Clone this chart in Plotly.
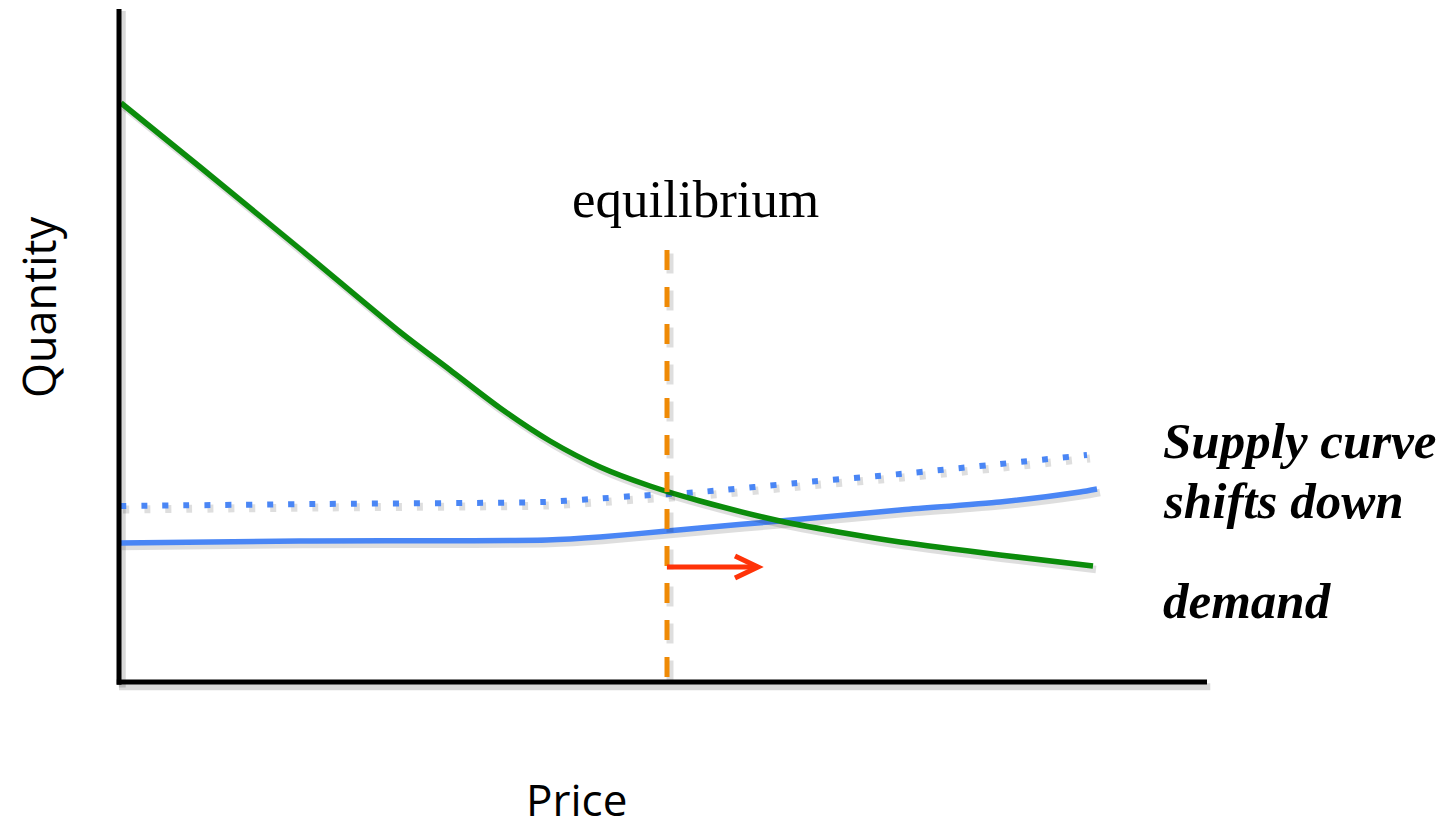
import plotly.graph_objects as go

# ---------------- data (price on x, quantity on y) ----------------
demand_price = [0.2, 8.1, 18.1, 28.1, 33.1, 38.1, 43.1, 48.1, 53.1, 58.1, 66.1, 73.1, 78.1, 88.1, 97.4]
demand_qty   = [57.9, 51.5, 43.3, 35.0, 31.2, 27.4, 24.1, 21.5, 19.6, 18.1, 16.1, 14.8, 14.0, 12.7, 11.6]

supply_new_price = [0.0, 18.1, 42.8, 48.1, 54.8, 58.1, 66.1, 78.1, 88.1, 96.1, 97.8]
supply_new_qty   = [13.9, 14.1, 14.2, 14.5, 15.1, 15.4, 16.1, 17.2, 18.0, 19.0, 19.3]

supply_old_price = [0.1, 19.8, 42.4, 47.4, 51.6, 58.1, 68.8, 78.1, 88.1, 96.8]
supply_old_qty   = [17.6, 17.8, 18.0, 18.3, 18.6, 19.0, 20.0, 20.8, 21.8, 22.7]

equilibrium_price = 54.8
equilibrium_line_top = 43.2
shift_start = 54.8
shift_end = 63.9
shift_level = 11.5

x_range = [0, 108.8]
y_range = [0, 67.3]

GREEN = "#0B8C0B"
BLUE = "#4A86F5"
ORANGE = "#EF8A05"
RED = "#FF3308"
SHADOW = "rgba(0,0,0,0.13)"
dx, dy = 0.3, -0.35

fig = go.Figure()

def add_line(xs, ys, color, width, dash="solid", shape="linear", smoothing=1.0, shadow=True):
    if shadow:
        fig.add_trace(go.Scatter(x=[v + dx for v in xs], y=[v + dy for v in ys], mode="lines",
                                 line=dict(color=SHADOW, width=width + 2, dash=dash, shape=shape,
                                           smoothing=smoothing),
                                 hoverinfo="skip", showlegend=False, cliponaxis=False))
    fig.add_trace(go.Scatter(x=xs, y=ys, mode="lines",
                             line=dict(color=color, width=width, dash=dash, shape=shape,
                                       smoothing=smoothing),
                             hoverinfo="skip", showlegend=False, cliponaxis=False))

add_line(supply_old_price, supply_old_qty, BLUE, 6, dash="6px,15px", shape="spline", smoothing=0.6)
add_line(supply_new_price, supply_new_qty, BLUE, 5.5, shape="spline", smoothing=0.6)
add_line(demand_price, demand_qty, GREEN, 5.5, shape="spline", smoothing=0.8)
add_line([equilibrium_price, equilibrium_price], [equilibrium_line_top, 0], ORANGE, 5,
         dash="20px,17px")

# shift arrow
head_len, head_half = 2.3, 1.1
fig.add_shape(type="line", x0=shift_start, x1=shift_end - 0.3, y0=shift_level, y1=shift_level,
              xref="x", yref="y", line=dict(color=RED, width=5))
fig.add_shape(type="path",
              path=f"M {shift_end - head_len},{shift_level + head_half} L {shift_end},{shift_level} "
                   f"L {shift_end - head_len},{shift_level - head_half}",
              xref="x", yref="y", line=dict(color=RED, width=5))

# axes lines (with soft shadow)
fig.add_shape(type="line", xref="paper", yref="paper", x0=0.003, x1=0.003, y0=-0.008, y1=0.997,
              line=dict(color="rgba(0,0,0,0.15)", width=7), layer="below")
fig.add_shape(type="line", xref="paper", yref="paper", x0=0.0, x1=1.003, y0=-0.007, y1=-0.007,
              line=dict(color="rgba(0,0,0,0.15)", width=7), layer="below")
fig.add_shape(type="line", xref="paper", yref="paper", x0=0, x1=0, y0=-0.004, y1=1,
              line=dict(color="black", width=5))
fig.add_shape(type="line", xref="paper", yref="paper", x0=-0.002, x1=1, y0=0, y1=0,
              line=dict(color="black", width=5))

serif = "Liberation Serif"
sans = "Open Sans"

def px_x(p):
    return (p - 119) / 1088

def px_y(p):
    return (682 - p) / 673

annotations = [
    dict(text="equilibrium", x=px_x(695), y=px_y(199), xanchor="center", yanchor="middle",
         font=dict(family=serif, size=53, color="black")),
    dict(text="<b><i>Supply curve</i></b>", x=px_x(1161), y=px_y(441), xanchor="left", yanchor="middle",
         font=dict(family=serif, size=51, color="black")),
    dict(text="<b><i>shifts down</i></b>", x=px_x(1161), y=px_y(501), xanchor="left", yanchor="middle",
         font=dict(family=serif, size=51, color="black")),
    dict(text="<b><i>demand</i></b>", x=px_x(1161), y=px_y(601), xanchor="left", yanchor="middle",
         font=dict(family=serif, size=51, color="black")),
    dict(text="Quantity", x=px_x(38), y=px_y(307), xanchor="center", yanchor="middle", textangle=-90,
         font=dict(family=sans, size=45, color="black")),
    dict(text="Price", x=px_x(576), y=px_y(799), xanchor="center", yanchor="middle",
         font=dict(family=sans, size=44, color="black")),
]
for a in annotations:
    a.update(xref="paper", yref="paper", showarrow=False)

fig.update_layout(
    width=1446, height=829,
    margin=dict(l=119, r=239, t=9, b=147),
    paper_bgcolor="white", plot_bgcolor="white",
    xaxis=dict(range=x_range, visible=False, fixedrange=True),
    yaxis=dict(range=y_range, visible=False, fixedrange=True),
    annotations=annotations,
    showlegend=False,
)

fig.write_html("out.html", config={"displayModeBar": False},
               post_script="document.body.style.margin='0';document.body.style.overflow='hidden';")
